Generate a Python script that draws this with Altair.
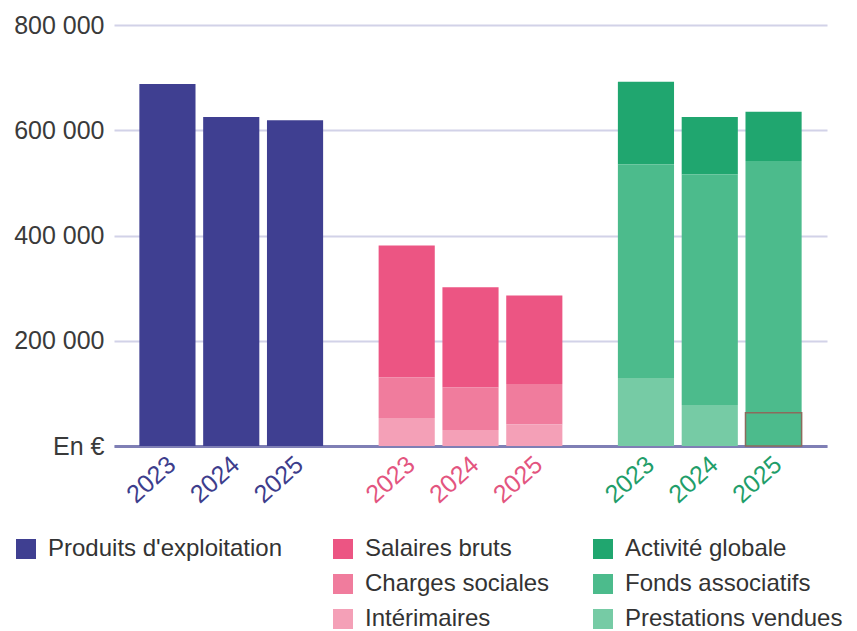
import altair as alt
import pandas as pd

FONT = "Liberation Sans"

years = ["2023", "2024", "2025"]
groups = ["Produits", "Charges", "Ressources"]
group_label_colors = ["#3d3d8c", "#e3557f", "#1f9e6a"]

# Groupe 1
produits_names = ["Produits d'exploitation"]
produits_colors = ["#3f3f91"]
produits_exploitation = [688000, 625000, 619000]

# Groupe 2 (empilé, du bas vers le haut : Intérimaires, Charges sociales, Salaires bruts)
charges_names = ["Salaires bruts", "Charges sociales", "Intérimaires"]
charges_colors = ["#ec5583", "#f07c9d", "#f4a0b7"]
salaires_bruts = [251000, 190500, 168000]
charges_sociales = [77000, 80500, 77000]
interimaires = [53000, 30500, 41000]

# Groupe 3 (empilé, du bas vers le haut : Prestations vendues, Fonds associatifs, Activité globale)
ressources_names = ["Activité globale", "Fonds associatifs", "Prestations vendues"]
ressources_colors = ["#20a66f", "#4cbb8c", "#76cba5"]
activite_globale = [157000, 109000, 93500]
fonds_associatifs = [406000, 438000, 478500]
prestations_vendues = [129000, 78000, 63000]

outlined_cells = [("Prestations vendues", "2025")]

y_ticks = [0, 200000, 400000, 600000, 800000]


def build(group, names, series):
    rows = []
    n = len(names)
    for si, (name, vals) in enumerate(zip(names, series)):
        for yr, v in zip(years, vals):
            rows.append({
                "group": group, "year": yr, "serie": name, "value": v,
                "rank": n - si,
                "outlined": (name, yr) in outlined_cells,
            })
    return pd.DataFrame(rows)


df1 = build(groups[0], produits_names, [produits_exploitation])
df2 = build(groups[1], charges_names, [salaires_bruts, charges_sociales, interimaires])
df3 = build(groups[2], ressources_names, [activite_globale, fonds_associatifs, prestations_vendues])

df_labels = pd.DataFrame([{"group": g, "year": y} for g in groups for y in years])

xscale = alt.Scale(domain=groups, paddingInner=0.2, paddingOuter=0.09)
xoff_scale = alt.Scale(domain=years, paddingInner=0.12, paddingOuter=0.06)
yscale = alt.Scale(domain=[0, 800000], nice=False)

xaxis = alt.Axis(labels=False, ticks=False, grid=False, domain=True,
                 domainColor="#7f7fb5", domainWidth=3, title=None)
yaxis = alt.Axis(values=y_ticks, grid=True, gridColor="#d2d2e8", gridWidth=2,
                 domain=False, ticks=False, labelFontSize=25, labelFont=FONT,
                 labelColor="#3a3a3a", labelPadding=10, title=None,
                 labelExpr="datum.value == 0 ? 'En €' : format(datum.value / 1000, 'd') + ' 000'")


def bar_layer(df, names, colors, legend_x, fill_override):
    legend = alt.Legend(orient="none", legendX=legend_x, legendY=512, title=None,
                        symbolType="square", symbolSize=400, symbolStrokeWidth=0,
                        labelFontSize=24, labelFont=FONT, labelColor="#333333",
                        labelOffset=10, rowPadding=11, labelLimit=400)
    fill_field = alt.Fill("serie:N", scale=alt.Scale(domain=names, range=colors), legend=legend)
    return alt.Chart(df).mark_bar(strokeWidth=1.5).encode(
        x=alt.X("group:N", scale=xscale, axis=xaxis),
        xOffset=alt.XOffset("year:N", scale=xoff_scale),
        y=alt.Y("value:Q", stack="zero", scale=yscale, axis=yaxis),
        fill=alt.condition("datum.outlined", alt.value(fill_override), fill_field),
        stroke=alt.condition("datum.outlined", alt.value("#8b6b5c"), alt.value("transparent")),
        order=alt.Order("rank:Q"),
    )


b1 = bar_layer(df1, produits_names, produits_colors, -100, produits_colors[0])
b2 = bar_layer(df2, charges_names, charges_colors, 217, charges_colors[0])
b3 = bar_layer(df3, ressources_names, ressources_colors, 477, ressources_colors[1])

labels = alt.Chart(df_labels).mark_text(
    angle=318, align="right", baseline="middle", fontSize=25, font=FONT, dx=6
).encode(
    x=alt.X("group:N", scale=xscale, axis=xaxis),
    xOffset=alt.XOffset("year:N", scale=xoff_scale),
    y=alt.value(440),
    color=alt.Color("group:N", scale=alt.Scale(domain=groups, range=group_label_colors), legend=None),
    text="year:N",
)

chart = alt.layer(b1, b2, b3, labels).resolve_scale(
    fill="independent", color="independent"
).properties(
    width=713, height=421, background="white"
).configure_view(stroke=None)

chart.save("out.html", embed_options={"renderer": "svg", "actions": False})
